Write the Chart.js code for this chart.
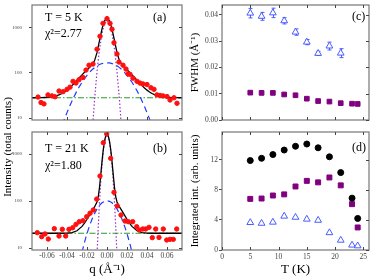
<!DOCTYPE html>
<html>
<head>
<meta charset="utf-8">
<script src="https://cdn.jsdelivr.net/npm/chart.js@4.4.0/dist/chart.umd.min.js"></script>
<style>
html, body { margin: 0; padding: 0; background: #fff; }
#wrap { position: relative; width: 374px; height: 278px; }
canvas { position: absolute; left: 0; top: 0; }
</style>
</head>
<body>
<div id="wrap">
<canvas id="pa" width="374" height="278"></canvas>
<canvas id="pb" width="374" height="278"></canvas>
<canvas id="pc" width="374" height="278"></canvas>
<canvas id="pd" width="374" height="278"></canvas>
</div>
<script>
// ---- panel (a), T = 5 K : measured points and fit components ----
var qA = [-0.069,-0.066,-0.063,-0.059,-0.055,-0.052,-0.048,-0.044,-0.040,-0.037,-0.034,-0.031,-0.028,-0.024,-0.021,-0.018,-0.014,-0.010,-0.007,-0.004,0.0,0.003,0.005,0.007,0.010,0.012,0.016,0.019,0.021,0.023,0.026,0.030,0.033,0.036,0.040,0.044,0.047,0.050,0.053,0.056,0.060,0.063,0.067,0.070];
var intA = [29,22,20.5,32.4,30.8,29.4,39.4,38.1,42.9,48,64.4,59.2,69.8,78.4,114,146,155,329,632,1217,1550,1217,906,457,258,171,146,120,93.8,92,75.7,64.4,59,56.4,54.7,46.4,42.9,32.4,31.5,30.8,29.8,25,28,21.2];

var qFitA = [-0.075,-0.0725,-0.07,-0.0675,-0.065,-0.0625,-0.06,-0.0575,-0.055,-0.0525,-0.05,-0.0475,-0.045,-0.0425,-0.04,-0.0375,-0.035,-0.0325,-0.03,-0.0275,-0.025,-0.0225,-0.02,-0.0175,-0.015,-0.0125,-0.01,-0.0075,-0.005,-0.0025,0,0.0025,0.005,0.0075,0.01,0.0125,0.015,0.0175,0.02,0.0225,0.025,0.0275,0.03,0.0325,0.035,0.0375,0.04,0.0425,0.045,0.0475,0.05,0.0525,0.055,0.0575,0.06,0.0625,0.065,0.0675,0.07,0.0725,0.075];
var totalA = [28,28,28.1,28.1,28.2,28.4,28.6,28.9,29.4,30.1,31.2,32.7,34.8,37.6,41.2,45.9,51.9,59.1,67.9,78.0,89.5,102.1,115.6,130,148,182,275,506,921,1382,1593,1382,921,506,275,182,148,130,115.6,102.1,89.5,78.0,67.9,59.1,51.9,45.9,41.2,37.6,34.8,32.7,31.2,30.1,29.4,28.9,28.6,28.4,28.2,28.1,28.1,28,28];
var broadA = [0.02,0.04,0.07,0.12,0.2,0.35,0.56,0.9,1.4,2.1,3.2,4.7,6.8,9.6,13.2,17.9,23.9,31.1,39.9,50,61.5,74.1,87.6,101.7,115.6,129,141,151,158.6,163.4,165,163.4,158.6,151,141,129,115.6,101.7,87.6,74.1,61.5,50,39.9,31.1,23.9,17.9,13.2,9.6,6.8,4.7,3.2,2.1,1.4,0.9,0.56,0.35,0.2,0.12,0.07,0.04,0.02];
var qNarA = [-0.02,-0.0175,-0.015,-0.0125,-0.01,-0.0075,-0.005,-0.0025,0,0.0025,0.005,0.0075,0.01,0.0125,0.015,0.0175,0.02];
var narrowA = [0.045,0.51,4.19,24.7,105.7,327,734,1191,1400,1191,734,327,105.7,24.7,4.19,0.51,0.045];
var qEdge = [-0.075, 0.075];
var bgA = [28, 28];

// ---- panel (b), T = 21 K ----
var qB = [-0.0697,-0.0653,-0.062,-0.0587,-0.0527,-0.048,-0.0447,-0.0413,-0.038,-0.0343,-0.031,-0.0277,-0.024,-0.0203,-0.017,-0.0137,-0.0103,-0.007,-0.0037,-0.0003,0.0037,0.007,0.0103,0.014,0.018,0.0213,0.0257,0.0297,0.0323,0.0357,0.0387,0.042,0.0453,0.0487,0.052,0.0563,0.0597,0.063,0.0663,0.0697];
var intB = [21.2,17.4,19.9,15.5,25.8,18,25,18,25,27,31.9,36.3,38.1,46.4,55,64.4,110,340,1740,2670,809,153,78.4,50.3,37.5,36.3,36.3,28.4,24.1,25.4,25.4,27.5,16.6,25.4,16.8,25.4,14.8,15.3,15.3,25.4];

var qFitB = [-0.075,-0.06,-0.05,-0.045,-0.04,-0.035,-0.03,-0.025,-0.0225,-0.02,-0.0175,-0.015,-0.0125,-0.01,-0.00875,-0.0075,-0.00625,-0.005,-0.00375,-0.0025,-0.00125,0,0.00125,0.0025,0.00375,0.005,0.00625,0.0075,0.00875,0.01,0.0125,0.015,0.0175,0.02,0.0225,0.025,0.03,0.035,0.04,0.045,0.05,0.06,0.075];
var totalB = [20.6,20.6,20.6,20.6,20.8,21.3,23.3,28.8,33.8,40.9,50.1,61.5,74.8,95.2,123,194,363,698,1231,1885,2447,2672,2447,1885,1231,698,363,194,123,95.2,74.8,61.5,50.1,40.9,33.8,28.8,23.3,21.3,20.8,20.6,20.6,20.6,20.6];
var qBroadB = [-0.035,-0.0325,-0.03,-0.0275,-0.025,-0.0225,-0.02,-0.0175,-0.015,-0.0125,-0.01,-0.0075,-0.005,-0.0025,0,0.0025,0.005,0.0075,0.01,0.0125,0.015,0.0175,0.02,0.0225,0.025,0.0275,0.03,0.0325,0.035];
var broadB = [0.74,1.45,2.7,4.8,8.2,13.2,20.3,29.5,40.9,53.9,67.5,80.6,91.4,98.5,101,98.5,91.4,80.6,67.5,53.9,40.9,29.5,20.3,13.2,8.2,4.8,2.7,1.45,0.74];
var qNarB = [-0.0125,-0.01125,-0.01,-0.00875,-0.0075,-0.00625,-0.005,-0.00375,-0.0025,-0.00125,0,0.00125,0.0025,0.00375,0.005,0.00625,0.0075,0.00875,0.01,0.01125,0.0125];
var narrowB = [0.26,1.48,7.1,28.1,93.1,256,586,1115,1766,2326,2550,2326,1766,1115,586,256,93.1,28.1,7.1,1.48,0.26];
var bgB = [20.6, 20.6];

// ---- panels (c) and (d): fit results vs temperature ----
var tempBroad = [5,7,9,11,13,15,17,19,21];
var tempAll = [5,7,9,11,13,15,17,19,21,23,24];
var fwhmBroad = [0.0406,0.0394,0.0407,0.0377,0.0334,0.0296,0.0253,0.0281,0.0254];
var fwhmBroadErr = [0.0018,0.0015,0.0018,0.0012,0.0012,0.001,0.0008,0.0015,0.0017];
var fwhmNarrow = [0.0104,0.0103,0.0103,0.0097,0.0094,0.0081,0.0072,0.0070,0.0064,0.0062,0.0061];
var intTotal = [11.9,12.2,12.7,13.3,13.8,14.1,13.6,12.4,10.3,6.9,4.2];
var intNarrow = [6.8,6.85,7.25,7.4,8.45,9.2,9.0,9.65,8.6,6.1,3.0];
var intBroad = [3.65,3.55,3.7,4.5,4.35,4.1,3.95,2.3,1.3,0.65,0.55];

// tick labels
var qTicks = [-0.06,-0.04,-0.02,0,0.02,0.04,0.06];
var logTicks = [10,100,1000];
var tTicks = [0,5,10,15,20,25];
var fwhmTicks = [0,0.01,0.02,0.03,0.04];
var intTicks = [0,4,8,12];

Chart.defaults.font.family = '"Liberation Serif", "Times New Roman", serif';
Chart.defaults.color = '#333';
Chart.defaults.animation = false;
Chart.defaults.responsive = false;
Chart.defaults.plugins.legend.display = false;
Chart.defaults.plugins.tooltip.enabled = false;

var SERIF = '"Liberation Serif", "Times New Roman", serif';

function pts(xs, ys) {
    return xs.map(function (x, i) { return { x: x, y: ys[i] }; });
}

function curve(xs, ys, color, dash, width) {
    return {
        data: pts(xs, ys), showLine: true, borderColor: color, borderWidth: width || 1.2,
        borderDash: dash, pointRadius: 0, fill: false, tension: 0
    };
}

function marks(xs, ys, style, color, fill, r) {
    return {
        data: pts(xs, ys), showLine: false, pointStyle: style, pointRadius: r,
        backgroundColor: fill, borderColor: color, borderWidth: 1
    };
}

function scaleOpts(c, horizontal) {
    return {
        type: c.type || 'linear',
        min: c.min, max: c.max,
        afterBuildTicks: function (s) {
            s.ticks = c.ticks.map(function (v) { return { value: v }; });
        },
        afterFit: function (s) {
            if (horizontal) s.height = c.size; else s.width = c.size;
            s.paddingTop = s.paddingBottom = s.paddingLeft = s.paddingRight = 0;
        },
        grid: { display: !horizontal, drawOnChartArea: false, drawTicks: !horizontal, tickLength: 3, color: '#444' },
        border: { display: false },
        ticks: {
            display: c.labels, padding: c.pad, font: { size: c.font }, color: '#444',
            maxRotation: 0, autoSkip: false, callback: c.fmt
        },
        title: c.title ? { display: true, text: c.title, font: { size: c.titleSize }, color: '#000', padding: c.titlePad } : { display: false }
    };
}

function panelOptions(area, xc, yc, notes, err) {
    return {
        layout: { padding: { left: area.l - yc.size, top: area.t, right: 374 - area.r, bottom: 278 - area.b - xc.size } },
        scales: { x: scaleOpts(xc, true), y: scaleOpts(yc, false) },
        plugins: { notes: { items: notes }, errbars: err || {} }
    };
}

// frame round the plot with inward ticks on bottom, top and right
var framePlugin = {
    id: 'frame',
    afterDraw: function (chart) {
        var a = chart.chartArea, ctx = chart.ctx, sx = chart.scales.x, sy = chart.scales.y;
        ctx.save();
        ctx.strokeStyle = '#777';
        ctx.lineWidth = 1.2;
        ctx.strokeRect(a.left, a.top, a.right - a.left, a.bottom - a.top);
        ctx.strokeStyle = '#444';
        ctx.lineWidth = 1;
        ctx.beginPath();
        sx.ticks.forEach(function (t) {
            var p = Math.round(sx.getPixelForValue(t.value)) + 0.5;
            ctx.moveTo(p, a.bottom); ctx.lineTo(p, a.bottom - 3);
            ctx.moveTo(p, a.top); ctx.lineTo(p, a.top + 3);
        });
        sy.ticks.forEach(function (t) {
            var p = Math.round(sy.getPixelForValue(t.value)) + 0.5;
            ctx.moveTo(a.right, p); ctx.lineTo(a.right - 3, p);
        });
        ctx.stroke();
        ctx.restore();
    }
};

var notesPlugin = {
    id: 'notes',
    afterDraw: function (chart, args, o) {
        var ctx = chart.ctx;
        (o.items || []).forEach(function (it) {
            ctx.save();
            ctx.font = (it.size || 12) + 'px ' + SERIF;
            ctx.fillStyle = '#000';
            ctx.textAlign = it.align || 'left';
            ctx.textBaseline = 'alphabetic';
            ctx.translate(it.x, it.y);
            if (it.rot) ctx.rotate(it.rot);
            ctx.fillText(it.text, 0, 0);
            ctx.restore();
        });
    }
};

var errPlugin = {
    id: 'errbars',
    beforeDatasetsDraw: function (chart, args, o) {
        if (!o.err) return;
        var sx = chart.scales.x, sy = chart.scales.y, ctx = chart.ctx;
        ctx.save();
        ctx.strokeStyle = o.color;
        ctx.lineWidth = 1;
        ctx.beginPath();
        o.xs.forEach(function (t, i) {
            var px = Math.round(sx.getPixelForValue(t)) + 0.5;
            var y1 = sy.getPixelForValue(o.ys[i] + o.err[i]);
            var y2 = sy.getPixelForValue(o.ys[i] - o.err[i]);
            ctx.moveTo(px, y1); ctx.lineTo(px, y2);
            ctx.moveTo(px - 2, y1); ctx.lineTo(px + 2, y1);
            ctx.moveTo(px - 2, y2); ctx.lineTo(px + 2, y2);
        });
        ctx.stroke();
        ctx.restore();
    }
};

var plugins = [framePlugin, notesPlugin, errPlugin];

function fmt2(v) { return Number(v).toFixed(2); }
function fmt0(v) { return String(v); }

var RED = '#ff1010', BLUE = '#1e3cff', PURPLE = '#9b30c8', GREEN = '#2e9a2e';
var SQ = '#800080', TRI = '#4a5cff';

// (a)
new Chart(document.getElementById('pa'), {
    type: 'scatter',
    data: { datasets: [
        marks(qA, intA, 'circle', RED, RED, 2.2),
        curve(qFitA, totalA, '#000', [], 1.3),
        curve(qFitA, broadA, BLUE, [6, 4]),
        curve(qNarA, narrowA, PURPLE, [1.5, 2]),
        curve(qEdge, bgA, GREEN, [6, 2, 1.5, 2])
    ]},
    options: panelOptions({ l: 32, t: 1, r: 182, b: 120 },
        { min: -0.075, max: 0.075, ticks: qTicks, size: 0, labels: false },
        { type: 'logarithmic', min: 9.07, max: 3087, ticks: logTicks, size: 32, labels: true, pad: 7, font: 5, fmt: fmt0 },
        [
            { text: 'T = 5 K', x: 45, y: 21 },
            { text: '\u03c7\u00b2=2.77', x: 45, y: 37 },
            { text: '(a)', x: 153, y: 21 },
            { text: 'Intensity (total counts)', x: 11, y: 147, size: 11, align: 'center', rot: -Math.PI / 2 }
        ])
    ,
    plugins: plugins
});

// (b)
new Chart(document.getElementById('pb'), {
    type: 'scatter',
    data: { datasets: [
        marks(qB, intB, 'circle', RED, RED, 2.2),
        curve(qFitB, totalB, '#000', [], 1.3),
        curve(qBroadB, broadB, BLUE, [6, 4]),
        curve(qNarB, narrowB, PURPLE, [1.5, 2]),
        curve(qEdge, bgB, GREEN, [6, 2, 1.5, 2])
    ]},
    options: panelOptions({ l: 32, t: 132, r: 182, b: 250 },
        { min: -0.075, max: 0.075, ticks: qTicks, size: 28, labels: true, pad: 2, font: 7.5, fmt: fmt2,
          title: 'q (\u00c5\u207b\u00b9)', titleSize: 13, titlePad: { top: 0, bottom: 1 } },
        { type: 'logarithmic', min: 9.07, max: 2940, ticks: logTicks, size: 32, labels: true, pad: 7, font: 5, fmt: fmt0 },
        [
            { text: 'T = 21 K', x: 45, y: 152 },
            { text: '\u03c7\u00b2=1.80', x: 45, y: 169 },
            { text: '(b)', x: 153, y: 152 }
        ]),
    plugins: plugins
});

// (c)
new Chart(document.getElementById('pc'), {
    type: 'scatter',
    data: { datasets: [
        marks(tempBroad, fwhmBroad, 'triangle', TRI, '#fff', 3.9),
        marks(tempAll, fwhmNarrow, 'rect', SQ, SQ, 3.3)
    ]},
    options: panelOptions({ l: 222, t: 1, r: 372, b: 120 },
        { min: 0, max: 26, ticks: tTicks, size: 0, labels: false },
        { min: 0, max: 0.0437, ticks: fwhmTicks, size: 35, labels: true, pad: 1, font: 7.5, fmt: fmt2,
          title: 'FWHM (\u00c5\u207b\u00b9)', titleSize: 11, titlePad: { top: 2, bottom: 0 } },
        [{ text: '(c)', x: 352, y: 20 }],
        { xs: tempBroad, ys: fwhmBroad, err: fwhmBroadErr, color: TRI }),
    plugins: plugins
});

// (d)
new Chart(document.getElementById('pd'), {
    type: 'scatter',
    data: { datasets: [
        marks(tempAll, intTotal, 'circle', '#000', '#000', 3),
        marks(tempAll, intNarrow, 'rect', SQ, SQ, 3.5),
        marks(tempAll, intBroad, 'triangle', TRI, '#fff', 3.9)
    ]},
    options: panelOptions({ l: 222, t: 132, r: 372, b: 250 },
        { min: 0, max: 26, ticks: tTicks, size: 28, labels: true, pad: 3, font: 7.5, fmt: fmt0,
          title: 'T (K)', titleSize: 13, titlePad: { top: 0, bottom: 1 } },
        { min: 0, max: 15.7, ticks: intTicks, size: 35, labels: true, pad: 1, font: 7.5, fmt: fmt0,
          title: 'Integrated int. (arb. units)', titleSize: 11, titlePad: { top: 2, bottom: 0 } },
        [{ text: '(d)', x: 352, y: 151 }]),
    plugins: plugins
});
</script>
</body>
</html>
